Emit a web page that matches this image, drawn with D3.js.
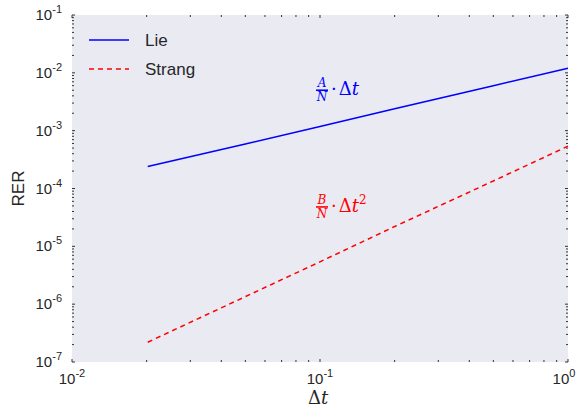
<!DOCTYPE html>
<html>
<head>
<meta charset="utf-8">
<script src="https://cdn.jsdelivr.net/npm/d3@7"></script>
<style>
  body { margin: 0; background: white; }
  text { font-family: "Liberation Sans", Arial, sans-serif; fill: #262626; }
  .math { font-family: "DejaVu Serif", "Liberation Serif", serif; }
</style>
</head>
<body>
<div id="chart"></div>
<script>
// step sizes and errors
let dt = [0.0202, 0.05, 0.1, 0.2, 0.5, 1.0];
let lie = [2.4e-4, 5.9e-4, 1.18e-3, 2.4e-3, 6.0e-3, 1.2e-2];
let strang = [2.2e-7, 1.35e-6, 5.4e-6, 2.2e-5, 1.35e-4, 5.4e-4];
let xTicks = [1e-2, 1e-1, 1e0];
let yTicks = [1e-7, 1e-6, 1e-5, 1e-4, 1e-3, 1e-2, 1e-1];

let margin = {top: 15, right: 10, bottom: 47, left: 72},
    width = 578 - margin.left - margin.right,
    height = 409 - margin.top - margin.bottom;

let svg = d3.select("#chart")
  .append("svg")
    .attr("width", 578)
    .attr("height", 409)
  .append("g")
    .attr("transform", "translate(" + margin.left + "," + margin.top + ")");

let x = d3.scaleLog().domain([1e-2, 1]).range([0, width]);
let y = d3.scaleLog().domain([1e-7, 1e-1]).range([height, 0]);

svg.append("rect")
  .attr("width", width)
  .attr("height", height)
  .attr("fill", "#eaeaf2");

// minor ticks on every side
let minor = function(lo, hi) {
  let out = [];
  for (let e = lo; e < hi; e++) {
    for (let m = 2; m <= 9; m++) out.push(m * Math.pow(10, e));
  }
  return out;
};
let xMinor = minor(-2, 0), yMinor = minor(-7, -1);

let tickG = svg.append("g").attr("stroke", "#333").attr("stroke-width", 1);
xMinor.forEach(function(v) {
  tickG.append("line").attr("x1", x(v)).attr("x2", x(v)).attr("y1", height).attr("y2", height - 2);
  tickG.append("line").attr("x1", x(v)).attr("x2", x(v)).attr("y1", 0).attr("y2", 2);
});
yMinor.forEach(function(v) {
  tickG.append("line").attr("y1", y(v)).attr("y2", y(v)).attr("x1", 0).attr("x2", 2);
  tickG.append("line").attr("y1", y(v)).attr("y2", y(v)).attr("x1", width).attr("x2", width - 2);
});
xTicks.forEach(function(v) {
  tickG.append("line").attr("x1", x(v)).attr("x2", x(v)).attr("y1", height).attr("y2", height - 3);
  tickG.append("line").attr("x1", x(v)).attr("x2", x(v)).attr("y1", 0).attr("y2", 3);
});
yTicks.forEach(function(v) {
  tickG.append("line").attr("y1", y(v)).attr("y2", y(v)).attr("x1", 0).attr("x2", 3);
  tickG.append("line").attr("y1", y(v)).attr("y2", y(v)).attr("x1", width).attr("x2", width - 3);
});

let pow10 = function(sel, v) {
  let e = Math.round(Math.log10(v));
  sel.append("tspan").text("10");
  sel.append("tspan").attr("dy", -7).attr("font-size", 11).text(e);
};

xTicks.forEach(function(v) {
  let t = svg.append("text")
    .attr("x", x(v) + (v == 1 ? -4 : 0))
    .attr("y", height + 22)
    .attr("text-anchor", "middle")
    .attr("font-size", 15);
  pow10(t, v);
});
yTicks.forEach(function(v) {
  let t = svg.append("text")
    .attr("x", -10)
    .attr("y", y(v) + 5)
    .attr("text-anchor", "end")
    .attr("font-size", 15);
  pow10(t, v);
});

// axis labels
svg.append("text")
  .attr("class", "math")
  .attr("x", width / 2 - 2)
  .attr("y", height + 42)
  .attr("text-anchor", "middle")
  .attr("font-size", 18)
  .html('Δ<tspan font-style="italic">t</tspan>');

svg.append("text")
  .attr("transform", "translate(" + (-48) + "," + (height / 2) + ")rotate(-90)")
  .attr("text-anchor", "middle")
  .attr("font-size", 17)
  .text("RER");

// curves
let line = function(ys) {
  return d3.line()
    .x(function(d, i) { return x(dt[i]); })
    .y(function(d) { return y(d); })(ys);
};
svg.append("path")
  .attr("d", line(lie))
  .attr("fill", "none")
  .attr("stroke", "#0000ff")
  .attr("stroke-width", 1.5);
svg.append("path")
  .attr("d", line(strang))
  .attr("fill", "none")
  .attr("stroke", "#ff0000")
  .attr("stroke-width", 1.5)
  .attr("stroke-dasharray", "5,4");

// rate annotations
let frac = function(cx, cy, num, color, sup) {
  let g = svg.append("g");
  g.append("text").attr("class", "math").attr("x", cx).attr("y", cy - 3)
    .attr("text-anchor", "middle").attr("font-size", 12).attr("font-style", "italic")
    .style("fill", color).text(num);
  g.append("line").attr("x1", cx - 6).attr("x2", cx + 6).attr("y1", cy).attr("y2", cy)
    .attr("stroke", color).attr("stroke-width", 1.6);
  g.append("text").attr("class", "math").attr("x", cx).attr("y", cy + 11)
    .attr("text-anchor", "middle").attr("font-size", 12).attr("font-style", "italic")
    .style("fill", color).text("N");
  let t = g.append("text").attr("class", "math").attr("x", cx + 9).attr("y", cy + 5)
    .attr("font-size", 18).style("fill", color);
  t.append("tspan").text("·");
  t.append("tspan").attr("dx", 2).text("Δ");
  t.append("tspan").attr("font-style", "italic").text("t");
  if (sup) t.append("tspan").attr("dy", -8).attr("font-size", 12).text(sup);
};
frac(x(0.1) + 2, y(5e-3), "A", "#0000ff", null);
frac(x(0.1) + 2, y(4.8e-5), "B", "#ff0000", "2");

// legend
let legend = [{name: "Lie", color: "#0000ff", dash: null}, {name: "Strang", color: "#ff0000", dash: "5,4"}];
legend.forEach(function(d, i) {
  let ly = 25 + i * 29;
  svg.append("line")
    .attr("x1", 17).attr("x2", 57).attr("y1", ly).attr("y2", ly)
    .attr("stroke", d.color).attr("stroke-width", 1.5)
    .attr("stroke-dasharray", d.dash);
  svg.append("text")
    .attr("x", 73).attr("y", ly + 6)
    .attr("font-size", 17)
    .text(d.name);
});
</script>
</body>
</html>
